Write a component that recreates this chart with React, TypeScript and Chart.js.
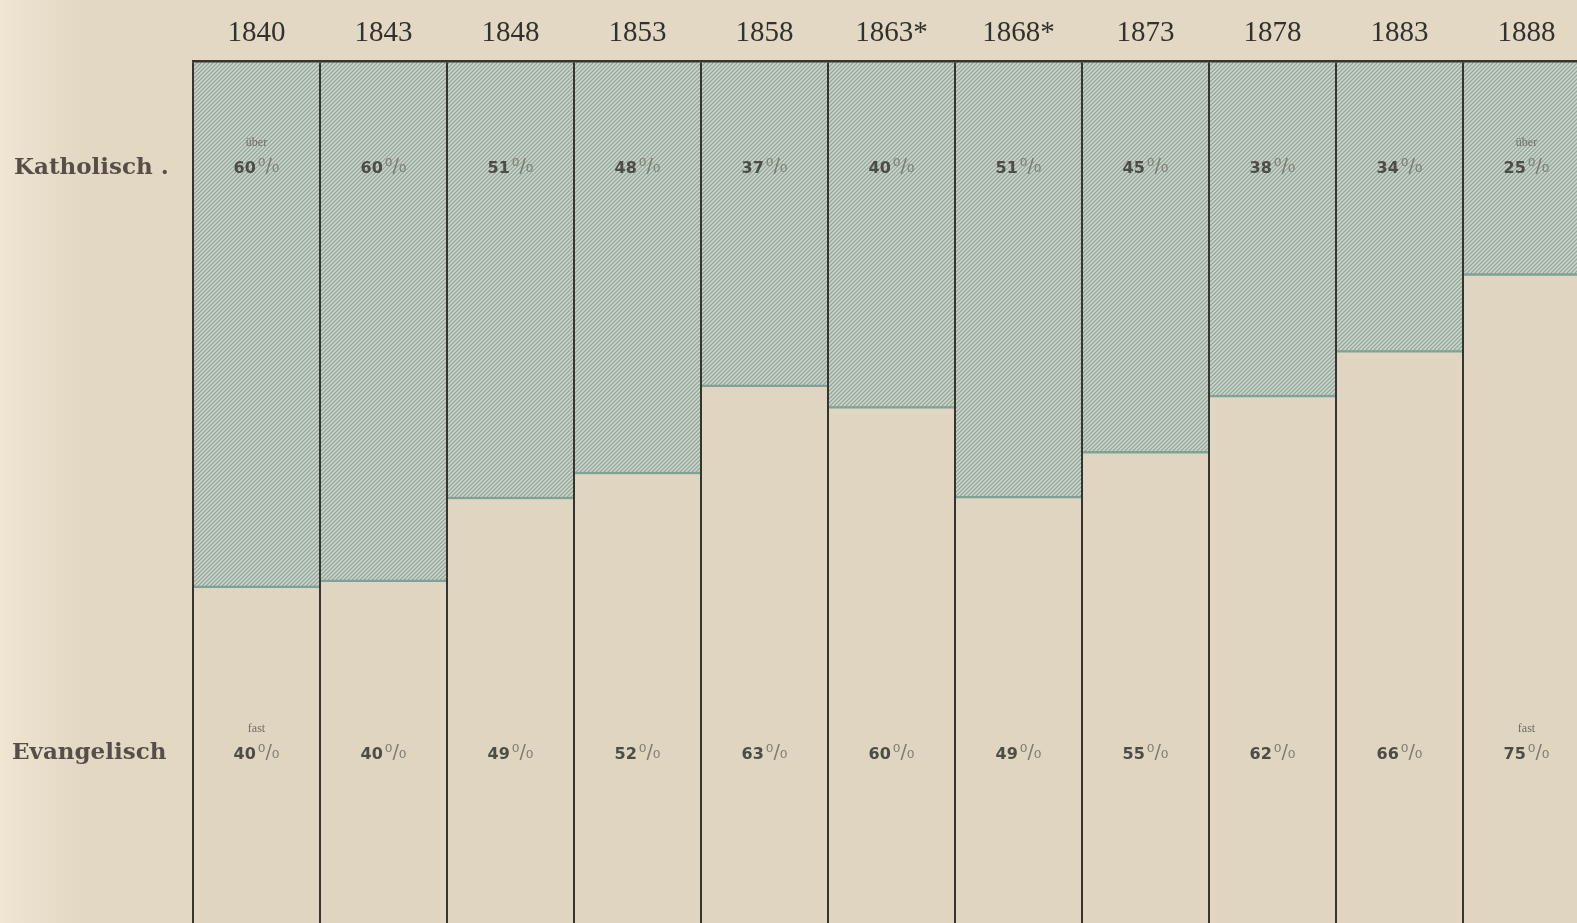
import React, { useEffect, useRef } from "react";
import { Chart, registerables } from "chart.js";

Chart.register(...registerables);

// ---- data ----
const years = ["1840", "1843", "1848", "1853", "1858", "1863*", "1868*", "1873", "1878", "1883", "1888"];
// drawn share of each column (percent of full height)
const katholisch = [61.1, 60.4, 50.8, 47.9, 37.8, 40.3, 50.7, 45.5, 39.0, 33.8, 24.9];
const evangelisch = [38.9, 39.6, 49.2, 52.1, 62.2, 59.7, 49.3, 54.5, 61.0, 66.2, 75.1];
// printed labels
const kathLabels = ["60", "60", "51", "48", "37", "40", "51", "45", "38", "34", "25"];
const evangLabels = ["40", "40", "49", "52", "63", "60", "49", "55", "62", "66", "75"];
const kathPrefix = ["über", "", "", "", "", "", "", "", "", "", "über"];
const evangPrefix = ["fast", "", "", "", "", "", "", "", "", "", "fast"];
const rowLabels = ["Katholisch .", "Evangelisch"];

const BG = "#e2d8c4";
const LINE = "#35342e";

export default function App() {
  const ref = useRef<HTMLCanvasElement>(null);

  useEffect(() => {
    const canvas = ref.current!;
    const ctx = canvas.getContext("2d")!;

    const tile = document.createElement("canvas");
    tile.width = 4;
    tile.height = 4;
    const t = tile.getContext("2d")!;
    t.fillStyle = "#cfd8cd";
    t.fillRect(0, 0, 4, 4);
    t.strokeStyle = "#94a699";
    t.lineWidth = 1.3;
    t.beginPath();
    t.moveTo(-1, 5);
    t.lineTo(5, -1);
    t.moveTo(-1, 1);
    t.lineTo(1, -1);
    t.moveTo(3, 5);
    t.lineTo(5, 3);
    t.stroke();
    const hatch = ctx.createPattern(tile, "repeat")!;

    const bgPlugin = {
      id: "bg",
      beforeDraw(chart: any) {
        const c = chart.ctx;
        c.save();
        c.fillStyle = BG;
        c.fillRect(0, 0, chart.width, chart.height);
        const g = c.createLinearGradient(0, 0, 80, 0);
        g.addColorStop(0, "rgba(242,233,214,0.8)");
        g.addColorStop(1, "rgba(242,233,214,0)");
        c.fillStyle = g;
        c.fillRect(0, 0, 80, chart.height);
        c.restore();
      },
    };

    const drawPct = (c: CanvasRenderingContext2D, cx: number, cy: number, num: string, prefix: string) => {
      c.save();
      c.textBaseline = "middle";
      const numFont = "bold 16px 'DejaVu Sans'";
      const pctFont = "19px 'DejaVu Sans'";
      c.font = numFont;
      const wn = c.measureText(num).width;
      c.font = pctFont;
      const pct = "⁰/₀";
      const wp = c.measureText(pct).width;
      const gap = 2;
      const x0 = cx - (wn + gap + wp) / 2;
      c.textAlign = "left";
      c.font = numFont;
      c.fillStyle = "#4d4c45";
      c.fillText(num, x0, cy + 1);
      c.font = pctFont;
      c.fillStyle = "#7d7c72";
      c.fillText(pct, x0 + wn + gap, cy - 1);
      if (prefix) {
        c.font = "12px 'Liberation Serif'";
        c.fillStyle = "#6f6e64";
        c.textAlign = "center";
        c.fillText(prefix, cx, cy - 25);
      }
      c.restore();
    };

    const labelPlugin = {
      id: "labels",
      afterDraw(chart: any) {
        const c = chart.ctx as CanvasRenderingContext2D;
        const xs = chart.scales.x;
        c.save();
        c.font = "bold 23px 'DejaVu Serif'";
        c.fillStyle = "#574f47";
        c.textBaseline = "middle";
        c.textAlign = "left";
        c.fillText(rowLabels[0], 14, 168);
        c.fillText(rowLabels[1], 12, 753);
        c.restore();
        years.forEach((_, i) => {
          const cx = xs.getPixelForValue(i);
          drawPct(c, cx, 168, kathLabels[i], kathPrefix[i]);
          drawPct(c, cx, 754, evangLabels[i], evangPrefix[i]);
        });
      },
    };

    const chart = new Chart(ctx, {
      type: "bar",
      data: {
        labels: years,
        datasets: [
          {
            label: "Evangelisch",
            data: evangelisch,
            backgroundColor: "#e0d5c0",
            borderWidth: 0,
            categoryPercentage: 1,
            barPercentage: 1,
          },
          {
            label: "Katholisch",
            data: katholisch,
            backgroundColor: hatch,
            borderColor: "#7fa196",
            borderWidth: { top: 0, left: 0, right: 0, bottom: 3 },
            borderSkipped: false,
            categoryPercentage: 1,
            barPercentage: 1,
          },
        ],
      },
      options: {
        responsive: false,
        animation: false,
        devicePixelRatio: 1,
        layout: { padding: { left: 193, right: 10, top: 6.4, bottom: 6 } },
        plugins: { legend: { display: false }, tooltip: { enabled: false } },
        scales: {
          x: {
            position: "top",
            stacked: true,
            offset: true,
            grid: { display: true, offset: true, color: LINE, lineWidth: 2, drawTicks: false, z: 1 },
            border: { display: true, color: LINE, width: 2.5, z: 1 },
            ticks: {
              color: "#33312b",
              padding: 10,
              font: { family: "'Liberation Serif'", size: 29, lineHeight: 1.2 },
              maxRotation: 0,
              autoSkip: false,
            },
          },
          y: { display: false, stacked: true, min: 0, max: 100 },
        },
      },
      plugins: [bgPlugin, labelPlugin],
    });
    return () => chart.destroy();
  }, []);

  return (
    <div style={{ position: "fixed", left: 0, top: 0, width: 1577, height: 923, overflow: "hidden", background: BG }}>
      <canvas ref={ref} width={1600} height={930} style={{ display: "block", width: 1600, height: 930 }} />
    </div>
  );
}
